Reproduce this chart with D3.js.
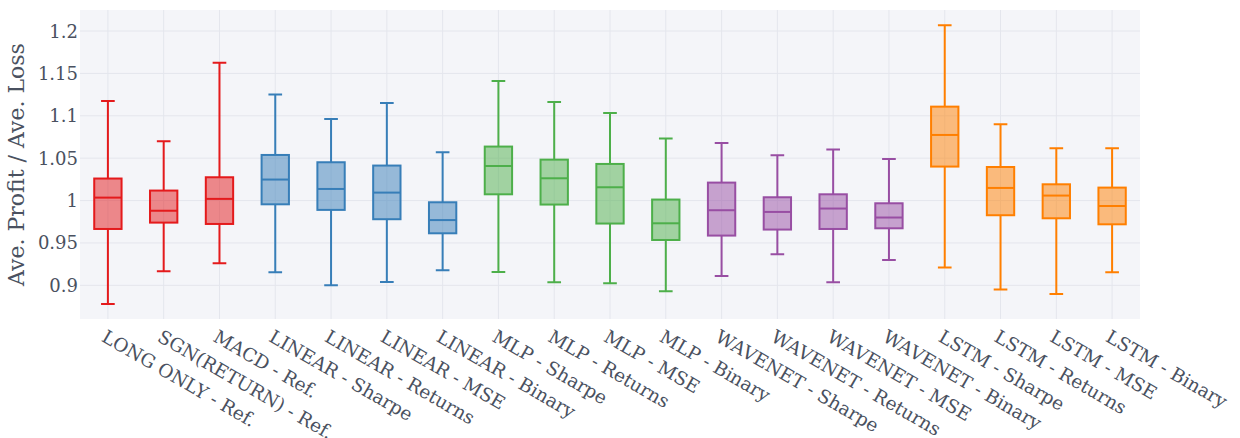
<!DOCTYPE html>
<html>
<head>
<meta charset="utf-8">
<script src="https://cdn.jsdelivr.net/npm/d3@7"></script>
<style>
  body { margin: 0; background: #fff; }
  svg text { font-family: "DejaVu Serif", serif; fill: #4a5160; }
</style>
</head>
<body>
<script>
// one box per strategy
var categories = ["LONG ONLY - Ref.", "SGN(RETURN) - Ref.", "MACD - Ref.",
  "LINEAR - Sharpe", "LINEAR - Returns", "LINEAR - MSE", "LINEAR - Binary",
  "MLP - Sharpe", "MLP - Returns", "MLP - MSE", "MLP - Binary",
  "WAVENET - Sharpe", "WAVENET - Returns", "WAVENET - MSE", "WAVENET - Binary",
  "LSTM - Sharpe", "LSTM - Returns", "LSTM - MSE", "LSTM - Binary"]
var groups = ["ref", "ref", "ref", "linear", "linear", "linear", "linear",
  "mlp", "mlp", "mlp", "mlp", "wavenet", "wavenet", "wavenet", "wavenet",
  "lstm", "lstm", "lstm", "lstm"]
var lowerFence = [0.878, 0.9166, 0.926, 0.9155, 0.9001, 0.904, 0.9178, 0.9158, 0.9037, 0.9025,
  0.893, 0.911, 0.9367, 0.9037, 0.93, 0.921, 0.895, 0.8899, 0.9155]
var q1 = [0.9665, 0.974, 0.9724, 0.9956, 0.989, 0.978, 0.9614, 1.0074, 0.9953, 0.9729,
  0.9535, 0.9587, 0.9658, 0.9665, 0.9673, 1.0401, 0.9827, 0.9791, 0.972]
var median = [1.0035, 0.988, 1.002, 1.0248, 1.0137, 1.0094, 0.977, 1.0408, 1.0263, 1.0157,
  0.9732, 0.9886, 0.9866, 0.9906, 0.98, 1.0774, 1.0149, 1.0059, 0.9936]
var q3 = [1.026, 1.0118, 1.0275, 1.0538, 1.0452, 1.0413, 0.998, 1.0637, 1.0483, 1.0432,
  1.0012, 1.0212, 1.0039, 1.0074, 0.9968, 1.1108, 1.0396, 1.0192, 1.0153]
var upperFence = [1.1175, 1.070, 1.1627, 1.125, 1.0962, 1.1151, 1.057, 1.141, 1.1163, 1.1033,
  1.0731, 1.068, 1.0534, 1.0601, 1.049, 1.2067, 1.09, 1.0617, 1.0617]
var yTicks = [0.9, 0.95, 1, 1.05, 1.1, 1.15, 1.2]
var groupColors = {ref: "#e41a1c", linear: "#377eb8", mlp: "#4daf4a", wavenet: "#984ea3", lstm: "#ff7f00"}

function drawChart() {
  var W = 1240, H = 438
  var plotL = 80, plotR = 1140, plotT = 10, plotB = 319

  var svg = d3.select("body").append("svg")
    .attr("width", W)
    .attr("height", H)

  svg.append("rect")
    .attr("x", plotL).attr("y", plotT)
    .attr("width", plotR - plotL).attr("height", plotB - plotT)
    .attr("fill", "#f4f5f9")

  var x = d3.scaleBand().domain(categories).range([plotL, plotR]).padding(0)
  var y = d3.scaleLinear().domain([0.8603, 1.2248]).range([plotB, plotT])
  var cx = d => x(d) + x.bandwidth() / 2

  var rows = categories.map(function(c, i) {
    return {cat: c, color: groupColors[groups[i]], lo: lowerFence[i], q1: q1[i], med: median[i], q3: q3[i], hi: upperFence[i]}
  })

  // grid
  svg.append("g").selectAll("line")
    .data(yTicks).enter().append("line")
    .attr("x1", plotL).attr("x2", plotR)
    .attr("y1", d => y(d)).attr("y2", d => y(d))
    .attr("stroke", "#e4e6ed").attr("stroke-width", 1)
  svg.append("g").selectAll("line")
    .data(categories).enter().append("line")
    .attr("x1", cx).attr("x2", cx)
    .attr("y1", plotT).attr("y2", plotB)
    .attr("stroke", "#e4e6ed").attr("stroke-width", 1)

  // y tick labels
  svg.append("g").selectAll("text")
    .data(yTicks).enter().append("text")
    .attr("x", 78)
    .attr("y", d => y(d))
    .attr("dy", "0.36em")
    .attr("text-anchor", "end")
    .style("font-size", "18px")
    .text(d => d3.format("~g")(d))

  // y title
  svg.append("text")
    .attr("transform", "translate(24," + ((plotT + plotB) / 2) + ") rotate(-90)")
    .attr("text-anchor", "middle")
    .style("font-size", "22px")
    .text("Ave. Profit / Ave. Loss")

  // boxes
  var boxW = x.bandwidth() * 0.49
  var capW = boxW / 2
  var box = svg.append("g").selectAll("g")
    .data(rows).enter().append("g")
    .attr("transform", d => "translate(" + cx(d.cat) + ",0)")

  box.append("path")
    .attr("d", d => "M0," + y(d.q3) + "V" + y(d.hi) + "M" + (-capW / 2) + "," + y(d.hi) + "H" + (capW / 2)
      + "M0," + y(d.q1) + "V" + y(d.lo) + "M" + (-capW / 2) + "," + y(d.lo) + "H" + (capW / 2))
    .attr("fill", "none")
    .attr("stroke", d => d.color)
    .attr("stroke-width", 2)
  box.append("rect")
    .attr("x", -boxW / 2)
    .attr("width", boxW)
    .attr("y", d => y(d.q3))
    .attr("height", d => y(d.q1) - y(d.q3))
    .attr("fill", d => d.color)
    .attr("fill-opacity", 0.5)
    .attr("stroke", d => d.color)
    .attr("stroke-width", 2)
  box.append("line")
    .attr("x1", -boxW / 2).attr("x2", boxW / 2)
    .attr("y1", d => y(d.med)).attr("y2", d => y(d.med))
    .attr("stroke", d => d.color)
    .attr("stroke-width", 2)

  // x tick labels, angled
  svg.append("g").selectAll("text")
    .data(categories).enter().append("text")
    .attr("transform", d => "translate(" + (cx(d) - 7.5) + ",340.5) rotate(30)")
    .attr("text-anchor", "start")
    .style("font-size", "18.5px")
    .text(d => d)
}
drawChart()
</script>
</body>
</html>
